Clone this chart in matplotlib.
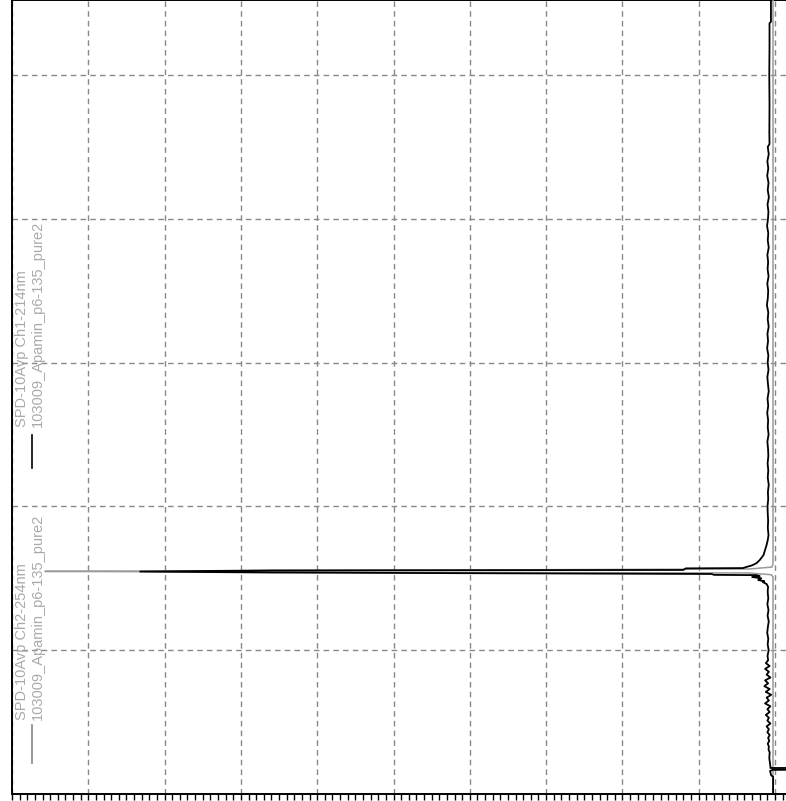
import numpy as np
import matplotlib.pyplot as plt

# chromatogram drawn sideways: retention on the vertical axis, signal on the horizontal one
ch1_time = [5.52, 5.37, 5.36, 5.20, 5.00, 4.80, 4.60, 4.52,
            4.50, 4.45, 4.40, 4.35, 4.30, 4.25, 4.20, 4.15, 4.10, 4.05, 4.00,
            3.95, 3.90, 3.85, 3.80, 3.75, 3.70, 3.65, 3.60, 3.55, 3.50, 3.45,
            3.40, 3.35, 3.30, 3.25, 3.20, 3.15, 3.10, 3.05, 3.00, 2.95, 2.90,
            2.85, 2.80, 2.75, 2.70, 2.65, 2.60, 2.55, 2.50, 2.45, 2.40, 2.35,
            2.30, 2.25, 2.20, 2.15, 2.10, 2.05, 2.00, 1.95, 1.90, 1.85, 1.80,
            1.766, 1.732, 1.697, 1.662, 1.627, 1.606, 1.590, 1.578, 1.571,
            1.569, 1.558, 1.555, 1.547, 1.540, 1.530, 1.524, 1.522, 1.515,
            1.509, 1.500, 1.488, 1.480, 1.474, 1.460, 1.440, 1.419,
            1.40, 1.36, 1.32, 1.28, 1.24, 1.20, 1.16, 1.12, 1.08, 1.04, 1.00,
            0.96, 0.93,
            0.91, 0.89, 0.87, 0.85, 0.83, 0.81, 0.79, 0.77, 0.75, 0.73, 0.71,
            0.69, 0.67, 0.65, 0.63, 0.61, 0.59, 0.57, 0.55, 0.53, 0.51, 0.49,
            0.47, 0.45, 0.43, 0.41, 0.39, 0.37, 0.35, 0.33, 0.31, 0.29, 0.25,
            0.21, 0.19, 0.181, 0.181, 0.168, 0.168, 0.16, 0.13, 0.12, 0.0]
ch1_signal = [9.947, 9.947, 9.928, 9.928, 9.925, 9.928, 9.926, 9.928,
              9.905, 9.918, 9.900, 9.912, 9.898, 9.915, 9.905, 9.920, 9.902, 9.914, 9.908,
              9.896, 9.912, 9.905, 9.918, 9.900, 9.910, 9.903, 9.916, 9.899, 9.911, 9.906,
              9.894, 9.912, 9.905, 9.917, 9.901, 9.909, 9.897, 9.913, 9.904, 9.915, 9.900,
              9.908, 9.918, 9.902, 9.911, 9.898, 9.910, 9.905, 9.916, 9.900, 9.909, 9.913,
              9.903, 9.912, 9.905, 9.918, 9.907, 9.911, 9.902, 9.905, 9.910, 9.906, 9.915,
              9.905, 9.890, 9.870, 9.850, 9.800, 9.760, 9.700, 9.620, 9.580,
              8.830, 8.800, 3.410, 1.680, 3.410, 9.170, 9.200, 9.760, 9.800,
              9.700, 9.820, 9.780, 9.860, 9.840, 9.890, 9.910, 9.905,
              9.905, 9.912, 9.900, 9.915, 9.903, 9.918, 9.906, 9.898, 9.912, 9.904, 9.917,
              9.902, 9.910,
              9.88, 9.93, 9.87, 9.92, 9.89, 9.94, 9.87, 9.91, 9.86, 9.93, 9.88,
              9.95, 9.89, 9.92, 9.87, 9.94, 9.90, 9.93, 9.88, 9.92, 9.90, 9.94,
              9.89, 9.92, 9.90, 9.93, 9.91, 9.925, 9.905, 9.92, 9.915, 9.93, 9.925,
              9.935, 9.94, 9.94, 10.40, 10.40, 9.97, 9.935, 9.95, 9.975, 9.975]

ch2_time = [5.52, 1.60, 1.578, 1.565, 1.552, 1.548, 1.544, 1.537, 1.525, 1.51, 0.0]
ch2_signal = [9.974, 9.974, 9.96, 9.67, 3.0, 0.432, 3.0, 9.646, 9.95, 9.974, 9.974]

label_ch1 = ["SPD-10Avp Ch1-214nm", "103009_Apamin_p6-135_pure2"]
label_ch2 = ["SPD-10Avp Ch2-254nm", "103009_Apamin_p6-135_pure2"]

plt.rcParams['font.family'] = ['Liberation Sans', 'DejaVu Sans']

fig = plt.figure(figsize=(7.86, 8.01), dpi=100)
ax = fig.add_axes([12 / 786, 7 / 801, 774 / 786, 794 / 801])

ax.plot(ch2_signal, ch2_time, color="#999999", lw=1.1, zorder=3)
ax.plot(ch1_signal, ch1_time, color="black", lw=1.3, zorder=4)

# legend drawn as rotated text beside short line samples
for lines, y0, col, seg in [(label_ch1, 2.552, "black", (2.497, 2.267)),
                            (label_ch2, 0.515, "#888888", (0.480, 0.216))]:
    ax.text(0.125, y0, lines[0], rotation=90, rotation_mode="anchor",
            ha="left", va="center", color="#aaaaaa", fontsize=10.5, zorder=5)
    ax.text(0.341, y0, lines[1], rotation=90, rotation_mode="anchor",
            ha="left", va="center", color="#aaaaaa", fontsize=10.5, zorder=5)
    ax.plot([0.262, 0.262], seg, color=col, lw=1.2, zorder=5)

ax.set_xlim(0, 774 / 76.3)
ax.set_ylim(0, 794 / 143.8)

ax.set_xticks(np.arange(0, 11, 1))
ax.set_xticks(np.arange(0, 10.2, 0.1), minor=True)
ax.set_yticks(np.arange(0, 6, 1))
ax.tick_params(axis="x", which="both", direction="out", length=4, width=1,
               labelbottom=False, bottom=True)
ax.tick_params(axis="y", which="both", left=False, labelleft=False)

ax.grid(True, which="major", color="#888888", linestyle=(0, (4, 3)), linewidth=1)
ax.set_axisbelow(True)

ax.spines["right"].set_visible(False)
ax.spines["left"].set_linewidth(1.4)
ax.spines["bottom"].set_linewidth(1.4)
ax.spines["top"].set_linewidth(1.4)

plt.savefig("out.png", dpi=100)
